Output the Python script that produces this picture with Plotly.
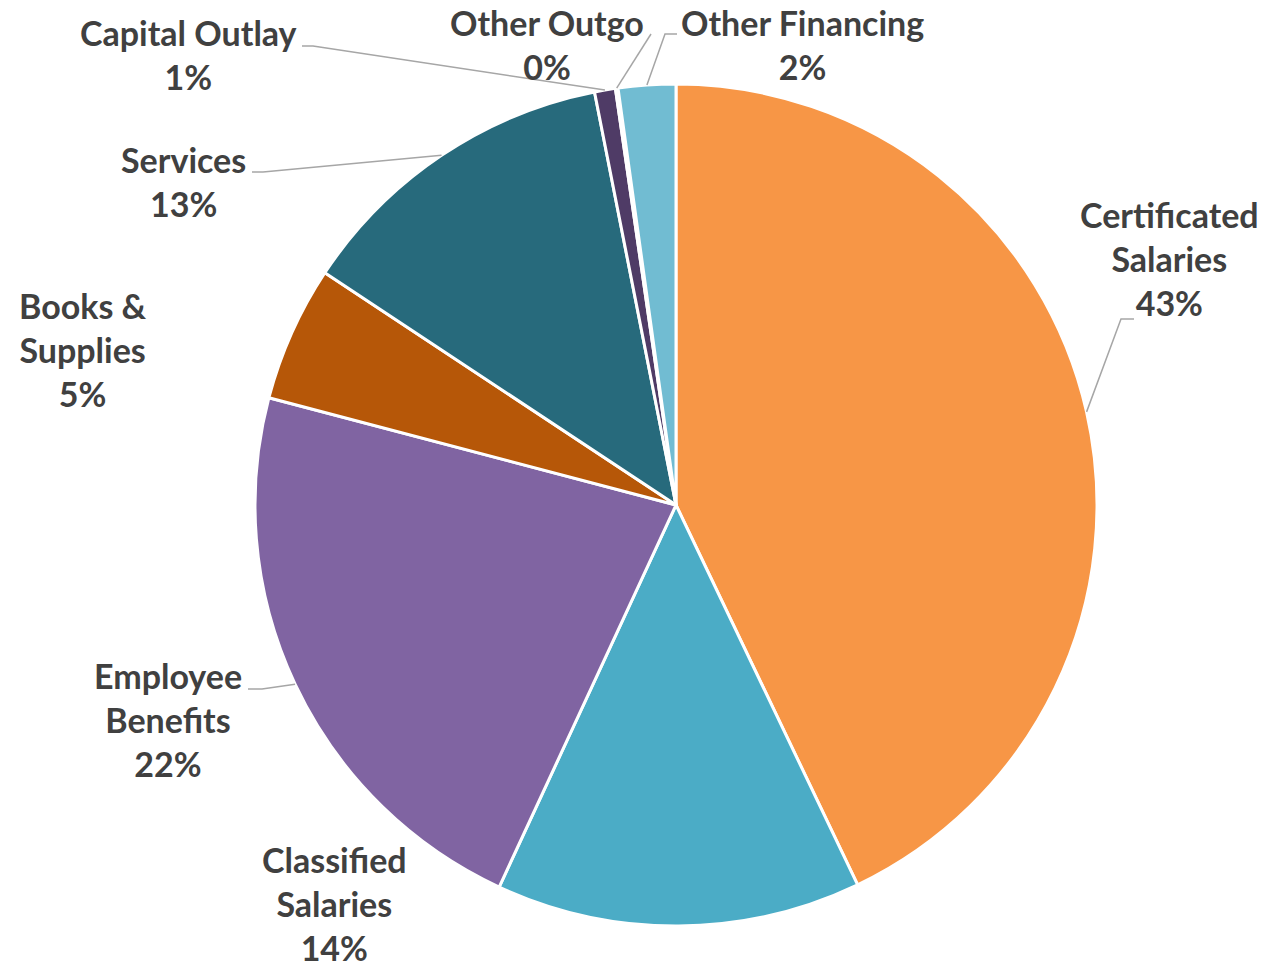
import math
import plotly.graph_objects as go

# ---- data ----
categories = ["Certificated Salaries", "Classified Salaries", "Employee Benefits",
              "Books & Supplies", "Services", "Capital Outlay", "Other Outgo",
              "Other Financing"]
label_lines = ["Certificated<br>Salaries", "Classified<br>Salaries", "Employee<br>Benefits",
               "Books &<br>Supplies", "Services", "Capital Outlay", "Other Outgo",
               "Other Financing"]
values = [42.9, 14.0, 22.2, 5.2, 12.6, 0.8, 0.1, 2.2]
colors = ["#F79646", "#4BACC6", "#8064A2", "#B65708", "#276A7C", "#4F3B66",
          "#F9B98A", "#71BCD2"]

# ---- layout (pixels) ----
W, H = 1283, 972
CX, CY, R = 676, 505, 421

# label centres (px) and leader-line elbows (px) - layout only
label_pos = {
    "Certificated Salaries": (1169, 259),
    "Classified Salaries": (335, 903),
    "Employee Benefits": (168, 719),
    "Books & Supplies": (83, 349),
    "Services": (183, 182),
    "Capital Outlay": (188, 55),
    "Other Outgo": (547, 45),
    "Other Financing": (802, 45),
}
leader = {
    "Certificated Salaries": [(1121, 319), (1134, 319)],
    "Employee Benefits": [(262, 689), (248, 689)],
    "Services": [(263, 172), (252, 172)],
    "Capital Outlay": [(313, 46), (302, 46)],
    "Other Outgo": [(651, 34)],
    "Other Financing": [(665, 34), (677, 34)],
}

def px(x):
    return x / W

def py(y):
    return 1 - y / H

fig = go.Figure(go.Pie(
    labels=categories, values=values, sort=False, direction="clockwise",
    rotation=0, marker=dict(colors=colors, line=dict(color="white", width=3)),
    textinfo="none", hoverinfo="label+percent", showlegend=False,
    domain=dict(x=[px(CX - R), px(CX + R)], y=[py(CY + R), py(CY - R)]),
))

total = sum(values)
cum = 0.0
shapes = []
annotations = []
for cat, lab, v in zip(categories, label_lines, values):
    mid = (cum + v / 2) / total * 2 * math.pi
    cum += v
    pct = round(v / total * 100)
    lx, ly = label_pos[cat]
    annotations.append(dict(
        x=px(lx), y=py(ly), xref="paper", yref="paper", showarrow=False,
        text=f"{lab}<br>{pct}%", align="center", xanchor="center", yanchor="middle",
        font=dict(family="Lato", size=34, color="#404040", weight="bold"),
    ))
    if cat in leader:
        ax = CX + R * math.sin(mid)
        ay = CY - R * math.cos(mid)
        pts = [(ax, ay)] + leader[cat]
        path = "M " + " L ".join(f"{px(x):.5f},{py(y):.5f}" for x, y in pts)
        shapes.append(dict(type="path", path=path, xref="paper", yref="paper",
                           line=dict(color="#A6A6A6", width=1.5)))

fig.update_layout(
    width=W, height=H, margin=dict(l=0, r=0, t=0, b=0),
    paper_bgcolor="white", plot_bgcolor="white",
    shapes=shapes, annotations=annotations,
)
fig.write_html("out.html")
